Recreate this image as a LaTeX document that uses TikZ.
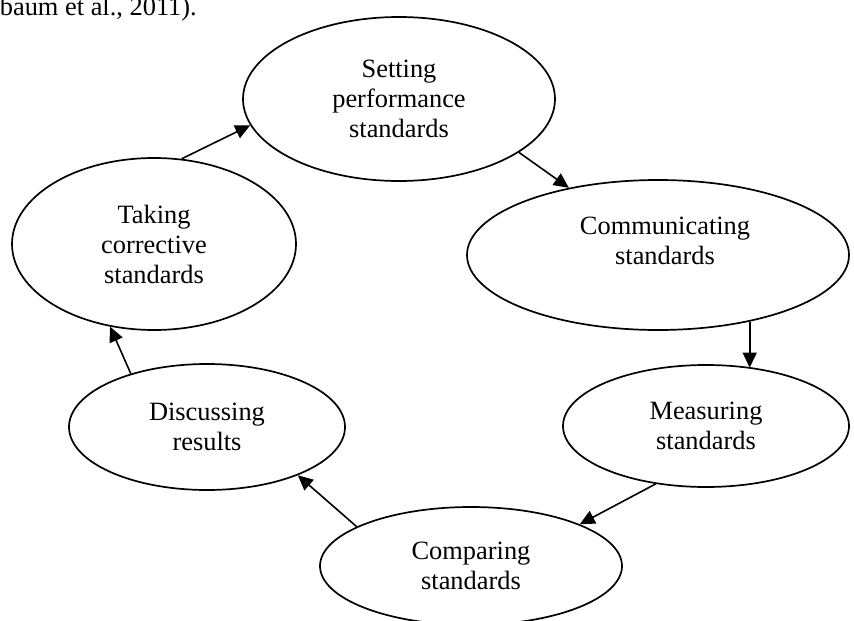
\documentclass[tikz,border=0pt]{standalone}
\usepackage{fontspec}
\setmainfont{Liberation Serif}
\usetikzlibrary{shapes.geometric,arrows.meta}
\begin{document}
\begin{tikzpicture}[x=1pt,y=-1pt,
  stage/.style={draw, ellipse, line width=1.7pt, inner sep=0pt, align=center,
    font=\fontsize{26.4}{30}\selectfont},
  txt/.style={align=center, inner sep=0pt, font=\fontsize{26.4}{30}\selectfont},
  flow/.style={line width=1.6pt, -{Triangle[length=15pt,width=14pt]}}]
\useasboundingbox (0,0) rectangle (854,621);
\clip (0,0) rectangle (854,621);
\node[txt, anchor=base east] (cite) at (197,16) {baum et al., 2011).};
\node[stage, minimum width=284pt, minimum height=172pt] (take) at (154,244) {Taking\\corrective\\standards};
\node[stage, minimum width=312pt, minimum height=164pt] (set) at (399,99) {Setting\\performance\\standards};
\node[stage, minimum width=382pt, minimum height=150pt] (comm) at (658,255) {};
\node[txt] (commtext) at (665,241) {Communicating\\standards};
\node[stage, minimum width=286pt, minimum height=122pt] (meas) at (706,426) {Measuring\\standards};
\node[stage, minimum width=302pt, minimum height=118pt] (comp) at (471,566) {Comparing\\standards};
\node[stage, minimum width=276pt, minimum height=126pt] (disc) at (207,427) {Discussing\\results};
\draw[flow] (take.72) -- (set.190.5);
\draw[flow] (set.-24.7) -- (comm.143.3);
\draw[flow] (comm.-36.4) -- (comm.-36.4 |- meas.51);
\draw[flow] (meas.229) -- (comp.21.4);
\draw[flow] (comp.161) -- (disc.-28);
\draw[flow] (disc.145.5) -- (take.242);
\end{tikzpicture}
\end{document}
